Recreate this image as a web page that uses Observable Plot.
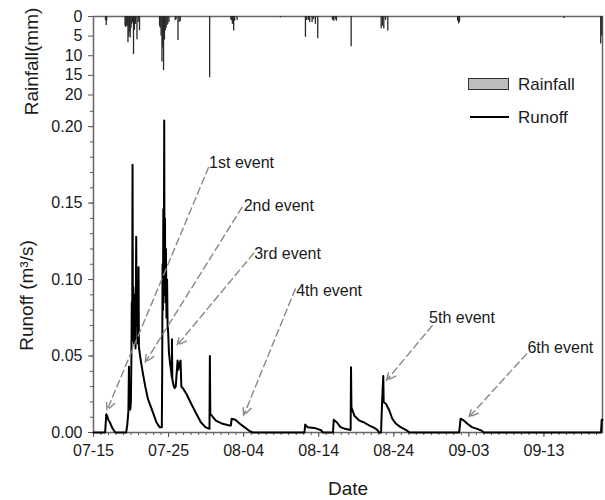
<!DOCTYPE html>
<html><head><meta charset="utf-8">
<script src="https://cdn.jsdelivr.net/npm/d3@7"></script>
<script src="https://cdn.jsdelivr.net/npm/@observablehq/plot@0.6"></script>
<style>
body{margin:0;background:#fff;font-family:"Liberation Sans",Arial,sans-serif;}
#wrap{position:relative;width:605px;height:500px;}
#wrap svg{position:absolute;left:0;top:0;}
</style></head><body><div id="wrap"></div>
<script>
// Period start (day offsets below are days after this date)
const startDate = Date.UTC(2013, 6, 15);
const endDay = 67.8;

// Runoff (m3/s) series
const runoffDay = [0,1.55,1.7,1.8,2.0,2.2,2.45,2.7,2.9,4.35,4.5,4.65,4.72,4.78,4.9,4.98,5.05,5.1,5.15,5.2,5.25,5.3,5.4,5.5,5.6,5.69,5.75,5.85,5.92,6.0,6.05,6.15,6.3,6.6,6.9,7.25,7.9,8.4,8.8,9.1,9.15,9.2,9.25,9.3,9.36,9.42,9.46,9.52,9.58,9.65,9.72,9.8,9.87,9.95,10.05,10.2,10.35,10.43,10.45,10.5,10.65,10.8,10.95,11.2,11.3,11.45,11.6,11.7,11.9,12.4,13.0,13.7,14.3,14.9,15.45,15.5,15.56,16.3,17.2,18.1,18.3,18.4,18.9,19.5,20.1,20.7,21.2,28.1,28.2,28.5,29.4,29.9,30.3,30.55,31.9,32.0,32.4,32.9,33.5,34.25,34.3,34.36,34.75,35.4,36.0,36.7,37.4,37.8,38.05,38.3,38.45,38.6,38.65,38.95,39.4,39.8,40.3,40.9,41.6,42.1,48.7,48.9,49.2,49.8,50.4,51.1,51.7,52.0,67.6,67.7,67.8];
const runoffValue = [0,0,0.012,0.011,0.008,0.0065,0.0035,0.0015,0,0,0.005,0.014,0.043,0.018,0.015,0.02,0.05,0.085,0.06,0.175,0.07,0.095,0.058,0.09,0.055,0.128,0.07,0.092,0.058,0.108,0.056,0.052,0.047,0.038,0.030,0.022,0.0133,0.0065,0.0035,0.0035,0.04,0.11,0.08,0.146,0.09,0.204,0.10,0.14,0.085,0.12,0.075,0.10,0.07,0.065,0.052,0.045,0.04,0.036,0.061,0.035,0.031,0.029,0.03,0.047,0.041,0.045,0.047,0.03,0.029,0.025,0.019,0.0122,0.0067,0.0035,0.0024,0.050,0.0122,0.0078,0.0057,0.0046,0.0046,0.009,0.0083,0.0057,0.0035,0.0013,0,0,0.0052,0.0035,0.003,0.0022,0.0015,0,0,0.0083,0.0067,0.0035,0.0024,0.0017,0.0427,0.0165,0.011,0.0078,0.0067,0.0046,0.003,0.0017,0,0,0.021,0.037,0.0198,0.0188,0.0144,0.009,0.0057,0.0035,0.0017,0,0,0.009,0.0083,0.0057,0.0035,0.0024,0.0012,0,0,0.0083,0.0083];

// Rainfall (mm) bars
const rainDay = [1.6,1.69,1.75,4.2,4.3,4.4,4.5,4.59,4.7,4.8,4.89,5.0,5.1,5.2,5.33,5.45,5.6,5.79,5.95,6.13,8.8,8.89,9.0,9.12,9.2,9.33,9.45,9.56,9.68,9.79,9.9,10.05,10.89,11.0,11.25,11.4,11.56,15.47,18.3,18.36,18.5,18.67,18.8,19.12,24.9,28.23,28.4,28.63,28.8,29.12,29.3,29.56,29.87,31.83,32.0,32.2,32.36,34.32,38.32,38.5,38.67,38.9,39.2,48.5,48.63,48.75,62.67,67.56,67.7];
const rainMM = [1.0,2.3,1.2,2.5,2.8,2.4,2.5,6.7,5.3,4.0,5.5,3.0,2.0,1.5,9.7,3.5,2.0,5.9,1.5,3.6,2.5,3.0,5.0,11.6,8.0,13.8,6.0,3.6,3.0,2.3,2.0,1.5,1.0,0.8,6.1,1.5,1.3,15.6,0.8,1.1,2.0,3.7,1.2,1.0,0.3,5.3,1.0,1.0,1.5,1.5,0.8,2.0,5.7,1.0,1.2,0.8,1.2,7.7,3.1,2.5,3.2,1.0,3.7,1.2,1.9,1.5,0.5,7.0,5.0];

// Axis ticks
const xTickLabels = ["07-15","07-25","08-04","08-14","08-24","09-03","09-13"];
const runoffTicks = [0, 0.05, 0.10, 0.15, 0.20];
const rainTicks = [0, 5, 10, 15, 20];

// Event annotations
const eventNames = ["1st event","2nd event","3rd event","4th event","5th event","6th event"];
const eventTipDay = [1.79, 6.89, 11.12, 20.0, 39.03, 50.0];
const eventTipValue = [0.0144, 0.0459, 0.0569, 0.0111, 0.034, 0.010];
const eventLineDay = [15.33, 19.79, 21.33, 26.89, 45.12, 57.69];
const eventLineValue = [0.1734, 0.1473, 0.1172, 0.0939, 0.0699, 0.0514];
const eventTextDay = [15.4, 20.0, 21.4, 27.0, 44.7, 57.8];
const eventTextValue = [0.1761, 0.1484, 0.1167, 0.0928, 0.0748, 0.0552];

const toDate = d => new Date(startDate + d * 864e5);
const parseTick = d3.utcParse("%Y-%m-%d");
const xTicks = xTickLabels.map(s => parseTick("2013-" + s));
const t0 = toDate(0), t1 = toDate(endDay);

const runoff = runoffDay.map((d, i) => ({date: toDate(d), q: runoffValue[i]}));
const rain = rainDay.map((d, i) => ({date: toDate(d), mm: rainMM[i]}));
const events = eventNames.map((n, i) => ({
  name: n,
  tx: toDate(eventTipDay[i]), ty: eventTipValue[i],
  lx: toDate(eventLineDay[i]), ly: eventLineValue[i],
  px: toDate(eventTextDay[i]), py: eventTextValue[i]
}));

const W = 605, H = 500, mL = 93, mR = 3, mT = 16, mB = 68;
const font = '"Liberation Sans", Arial, sans-serif';
const common = {
  width: W, height: H, marginLeft: mL, marginRight: mR, marginTop: mT, marginBottom: mB,
  style: {fontFamily: font, fontSize: "16px", color: "#1a1a1a", background: "transparent", overflow: "visible"}
};

const runoffPlot = Plot.plot({
  ...common,
  x: {type: "utc", domain: [t0, t1]},
  y: {domain: [0, 0.272]},
  marks: [
    Plot.axisX({ticks: d3.utcDay.range(t0, t1), tickSize: 3, tickFormat: () => "", label: null, stroke: "#555"}),
    Plot.axisX({ticks: xTicks, tickSize: 5, tickPadding: 7, tickFormat: d3.utcFormat("%m-%d"), label: null, stroke: "#555", fontSize: 16}),
    Plot.axisY({ticks: d3.range(0, 22).map(i => i / 100), tickSize: 3, tickFormat: () => "", label: null, stroke: "#555"}),
    Plot.axisY({ticks: runoffTicks, tickSize: 5, tickPadding: 6, tickFormat: d3.format(".2f"), label: null, stroke: "#555", fontSize: 16}),
    Plot.frame({stroke: "#666", strokeWidth: 1.5}),
    Plot.line(runoff, {x: "date", y: "q", stroke: "#000", strokeWidth: 2, strokeLinejoin: "round"}),
    Plot.arrow(events, {x1: "lx", y1: "ly", x2: "tx", y2: "ty", stroke: "#888", strokeWidth: 1.4, strokeDasharray: "7,4", headLength: 11, headAngle: 50}),
    Plot.text(events, {x: "px", y: "py", text: "name", textAnchor: "start", fontSize: 16, fill: "#1a1a1a"}),
    Plot.text(["Runoff (m³/s)"], {frameAnchor: "left", textAnchor: "middle", lineAnchor: "middle", dx: -67, dy: 71, rotate: -90, fontSize: 19, fill: "#1a1a1a"}),
    Plot.text(["Date"], {frameAnchor: "bottom", textAnchor: "middle", lineAnchor: "middle", dy: 56, fontSize: 19, fill: "#1a1a1a"})
  ]
});

const rainPlot = Plot.plot({
  ...common,
  x: {type: "utc", domain: [t0, t1], axis: null},
  y: {domain: [0, 106], reverse: true, axis: null},
  marks: [
    Plot.ruleX(rain, {x: "date", y1: 0, y2: "mm", stroke: "#2a2a2a", strokeWidth: 1.3}),
    Plot.axisY({ticks: rainTicks, tickSize: 5, tickPadding: 6, label: null, stroke: "#555", fontSize: 16}),
    Plot.text(["Rainfall(mm)"], {frameAnchor: "left", textAnchor: "middle", lineAnchor: "middle", dx: -62, dy: -163, rotate: -90, fontSize: 19, fill: "#1a1a1a"})
  ]
});

const wrap = document.getElementById("wrap");
wrap.appendChild(runoffPlot);
wrap.appendChild(rainPlot);

// Legend
const ns = "http://www.w3.org/2000/svg";
const leg = document.createElementNS(ns, "svg");
leg.setAttribute("width", W); leg.setAttribute("height", H);
leg.style.pointerEvents = "none";
leg.innerHTML = `
  <rect x="468.5" y="78.5" width="40" height="11" fill="#bdbdbd" stroke="#333" stroke-width="1"/>
  <text x="518" y="90" font-size="17" font-family='${font}' fill="#1a1a1a">Rainfall</text>
  <line x1="470" x2="509" y1="117" y2="117" stroke="#000" stroke-width="2"/>
  <text x="518" y="123" font-size="17" font-family='${font}' fill="#1a1a1a">Runoff</text>`;
wrap.appendChild(leg);
</script>
</body></html>
